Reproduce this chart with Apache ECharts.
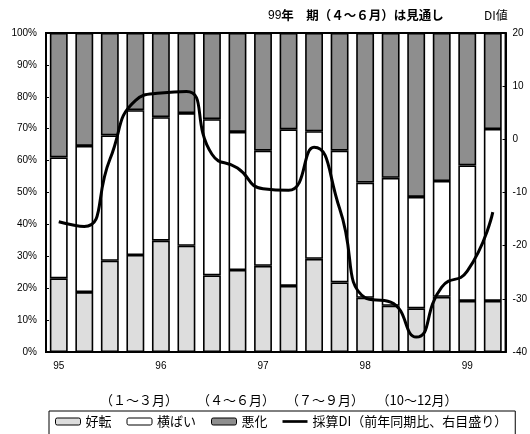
<!DOCTYPE html>
<html>
<head>
<meta charset="utf-8">
<script src="https://cdn.jsdelivr.net/npm/echarts@6/dist/echarts.min.js"></script>
<style>html,body{margin:0;padding:0;background:#fff}#c{width:530px;height:434px}</style>
</head>
<body>
<div id="c"></div>
<script>
// Categories: quarters 1995 Q1 .. 1999 Q2
const quarters = ['95Q1','95Q2','95Q3','95Q4','96Q1','96Q2','96Q3','96Q4','97Q1','97Q2','97Q3','97Q4','98Q1','98Q2','98Q3','98Q4','99Q1','99Q2'];
const yearLabels = ['95','','','','96','','','','97','','','','98','','','','99',''];
// Shares (%)
const improved = [23.1, 18.8, 28.6, 30.4, 34.9, 33.3, 24.0, 25.7, 27.0, 20.7, 29.2, 21.8, 17.0, 14.5, 13.7, 17.3, 16.0, 16.0];
const flat     = [37.9, 45.8, 39.3, 45.4, 38.7, 41.6, 49.0, 43.3, 36.1, 49.1, 40.0, 41.3, 36.1, 40.1, 34.9, 36.3, 42.5, 53.9];
const worsened = [39.0, 35.4, 32.1, 24.2, 26.4, 25.1, 27.0, 31.0, 36.9, 30.2, 30.8, 36.9, 46.9, 45.4, 51.4, 46.4, 41.5, 30.1];
// Profitability DI (right axis)
const di = [-15.5, -16.4, -3.8, 7.3, 8.7, 9.0, -2.8, -5.4, -9.3, -9.6, -1.5, -13.0, -29.8, -30.6, -37.2, -27.8, -24.8, -13.7];
const seriesNames = ['好転', '横ばい', '悪化', '採算DI（前年同期比、右目盛り）'];
const quarterNotes = ['（１～３月）', '（４～６月）', '（７～９月）', '（10～12月）'];
const titleYear = '99';
const titleRest = '年　期（４～６月）は見通し';
const rightUnit = 'DI値';

const jp = '"Noto Sans CJK JP", sans-serif';
const num = '"Liberation Sans", Arial, sans-serif';
const chart = echarts.init(document.getElementById('c'));
const barStyle = (c) => ({ color: c, borderColor: '#000', borderWidth: 1.6 });
const notePos = [139, 236, 325, 417];

chart.setOption({
  animation: false,
  grid: { left: 46, right: 24, top: 33, bottom: 82, show: true, borderColor: '#000', borderWidth: 2, backgroundColor: 'transparent' },
  xAxis: {
    type: 'category', data: quarters,
    axisLine: { lineStyle: { color: '#000', width: 2 } },
    axisTick: { inside: true, length: 3, interval: 0, lineStyle: { color: '#000', width: 1 } },
    axisLabel: { interval: 0, color: '#000', fontSize: 10, fontFamily: num, margin: 9, formatter: (v, i) => yearLabels[i] }
  },
  yAxis: [
    { type: 'value', min: 0, max: 100, interval: 10,
      axisLine: { show: true, lineStyle: { color: '#000', width: 2 } },
      axisTick: { show: true, inside: true, length: 3, lineStyle: { color: '#000' } },
      splitLine: { show: false },
      axisLabel: { color: '#000', fontSize: 10, fontFamily: num, margin: 9, formatter: '{value}%' } },
    { type: 'value', min: -40, max: 20, interval: 10, position: 'right',
      axisLine: { show: true, lineStyle: { color: '#000', width: 2 } },
      axisTick: { show: true, inside: true, length: 3, lineStyle: { color: '#000' } },
      splitLine: { show: false },
      axisLabel: { color: '#000', fontSize: 10, fontFamily: num, margin: 7 } }
  ],
  legend: {
    left: 49, top: 411, padding: [4, 8, 12, 6],
    borderColor: '#000', borderWidth: 1,
    itemWidth: 25, itemHeight: 7, itemGap: 15,
    textStyle: { fontSize: 13, fontFamily: jp, color: '#000' },
    itemStyle: { borderWidth: 1 },
    data: [
      { name: seriesNames[0] }, { name: seriesNames[1] }, { name: seriesNames[2] },
      { name: seriesNames[3], icon: 'path://M0,0L28,0L28,3L0,3Z', itemStyle: { color: '#000', borderWidth: 0 } }
    ]
  },
  graphic: [
    { type: 'text', left: 268, top: 9, style: { text: '{a|' + titleYear + '}{b|' + titleRest + '}',
        rich: { a: { fontSize: 12, fontFamily: num, fill: '#000' }, b: { fontSize: 12.5, fontWeight: 'bold', fontFamily: jp, fill: '#000' } } } },
    { type: 'text', left: 484, top: 9, style: { text: rightUnit, fontSize: 12, fontFamily: jp, fill: '#000' } },
    ...quarterNotes.map((t, i) => ({ type: 'text', x: notePos[i], y: 400,
        style: { text: t, fontSize: 13, fontFamily: jp, fill: '#000', align: 'center', verticalAlign: 'middle' } }))
  ],
  series: [
    { name: seriesNames[0], type: 'bar', stack: 's', data: improved, barCategoryGap: '30%', itemStyle: barStyle('#dddddd') },
    { name: seriesNames[1], type: 'bar', stack: 's', data: flat, itemStyle: barStyle('#ffffff') },
    { name: seriesNames[2], type: 'bar', stack: 's', data: worsened, itemStyle: barStyle('#8e8e8e') },
    { name: seriesNames[3], type: 'line', yAxisIndex: 1, data: di, smooth: 0.55, symbol: 'none',
      lineStyle: { color: '#000', width: 3 }, itemStyle: { color: '#000' }, z: 5 }
  ]
});
</script>
</body>
</html>
